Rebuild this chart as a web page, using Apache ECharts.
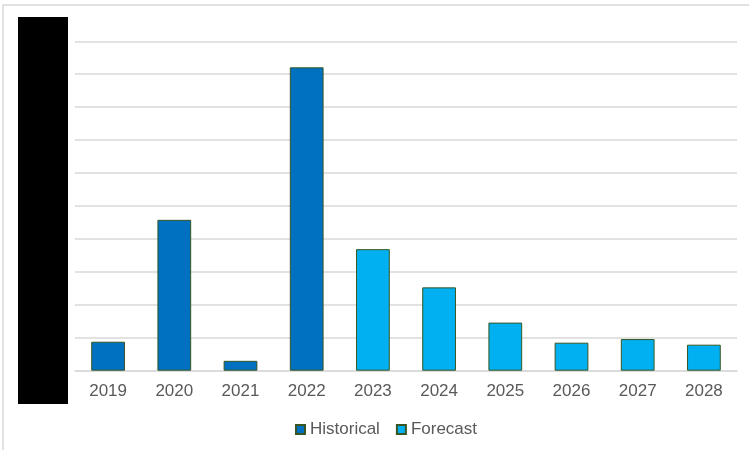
<!DOCTYPE html>
<html>
<head>
<meta charset="utf-8">
<script src="https://cdn.jsdelivr.net/npm/echarts@6/dist/echarts.min.js"></script>
<style>
  html, body { margin: 0; padding: 0; background: #ffffff; }
  #chart { width: 749px; height: 450px; }
</style>
</head>
<body>
<div id="chart"></div>
<script>
// Years on the category axis
const years = ['2019', '2020', '2021', '2022', '2023', '2024', '2025', '2026', '2027', '2028'];
// Reported values (2019-2022); '-' where the year is forecast
const historical = [0.88, 4.58, 0.30, 9.21, '-', '-', '-', '-', '-', '-'];
// Projected values (2023-2028); '-' where the year is historical
const forecast = ['-', '-', '-', '-', 3.69, 2.53, 1.46, 0.85, 0.96, 0.79];

const textColor = '#595959';
const gridColor = '#d9d9d9';
const edgeColor = '#375623';

const chart = echarts.init(document.getElementById('chart'), null, { renderer: 'canvas' });

chart.setOption({
  animation: false,
  backgroundColor: '#ffffff',
  textStyle: { fontFamily: 'Liberation Sans, Arial, sans-serif' },
  graphic: [
    {
      type: 'rect',
      shape: { x: 3, y: 5, width: 800, height: 500 },
      style: { fill: 'none', stroke: '#d9d9d9', lineWidth: 1.5 },
      silent: true,
      z: 0
    },
    {
      type: 'rect',
      shape: { x: 18, y: 17, width: 50, height: 387 },
      style: { fill: '#000000' },
      silent: true,
      z: 100
    }
  ],
  grid: { left: 75, right: 12, top: 41.3, bottom: 79.3 },
  legend: {
    left: 295,
    top: 421,
    padding: 0,
    icon: 'rect',
    itemWidth: 9,
    itemHeight: 9,
    itemGap: 16,
    textStyle: { color: textColor, fontSize: 17, fontFamily: 'Liberation Sans, Arial, sans-serif' },
    data: ['Historical', 'Forecast']
  },
  xAxis: {
    type: 'category',
    data: years,
    axisTick: { show: false },
    axisLine: { show: true, lineStyle: { color: gridColor, width: 1.5 } },
    axisLabel: { color: textColor, fontSize: 17, margin: 12 }
  },
  yAxis: {
    type: 'value',
    min: 0,
    max: 10,
    interval: 1,
    axisLine: { show: false },
    axisTick: { show: false },
    axisLabel: { show: false },
    splitLine: { lineStyle: { color: gridColor, width: 1.5 } }
  },
  series: [
    {
      name: 'Historical',
      type: 'bar',
      stack: 'total',
      barWidth: '51%',
      data: historical,
      itemStyle: { color: '#0070C0', borderColor: edgeColor, borderWidth: 1 }
    },
    {
      name: 'Forecast',
      type: 'bar',
      stack: 'total',
      barWidth: '51%',
      data: forecast,
      itemStyle: { color: '#00B0F0', borderColor: edgeColor, borderWidth: 1 }
    }
  ]
});
</script>
</body>
</html>
